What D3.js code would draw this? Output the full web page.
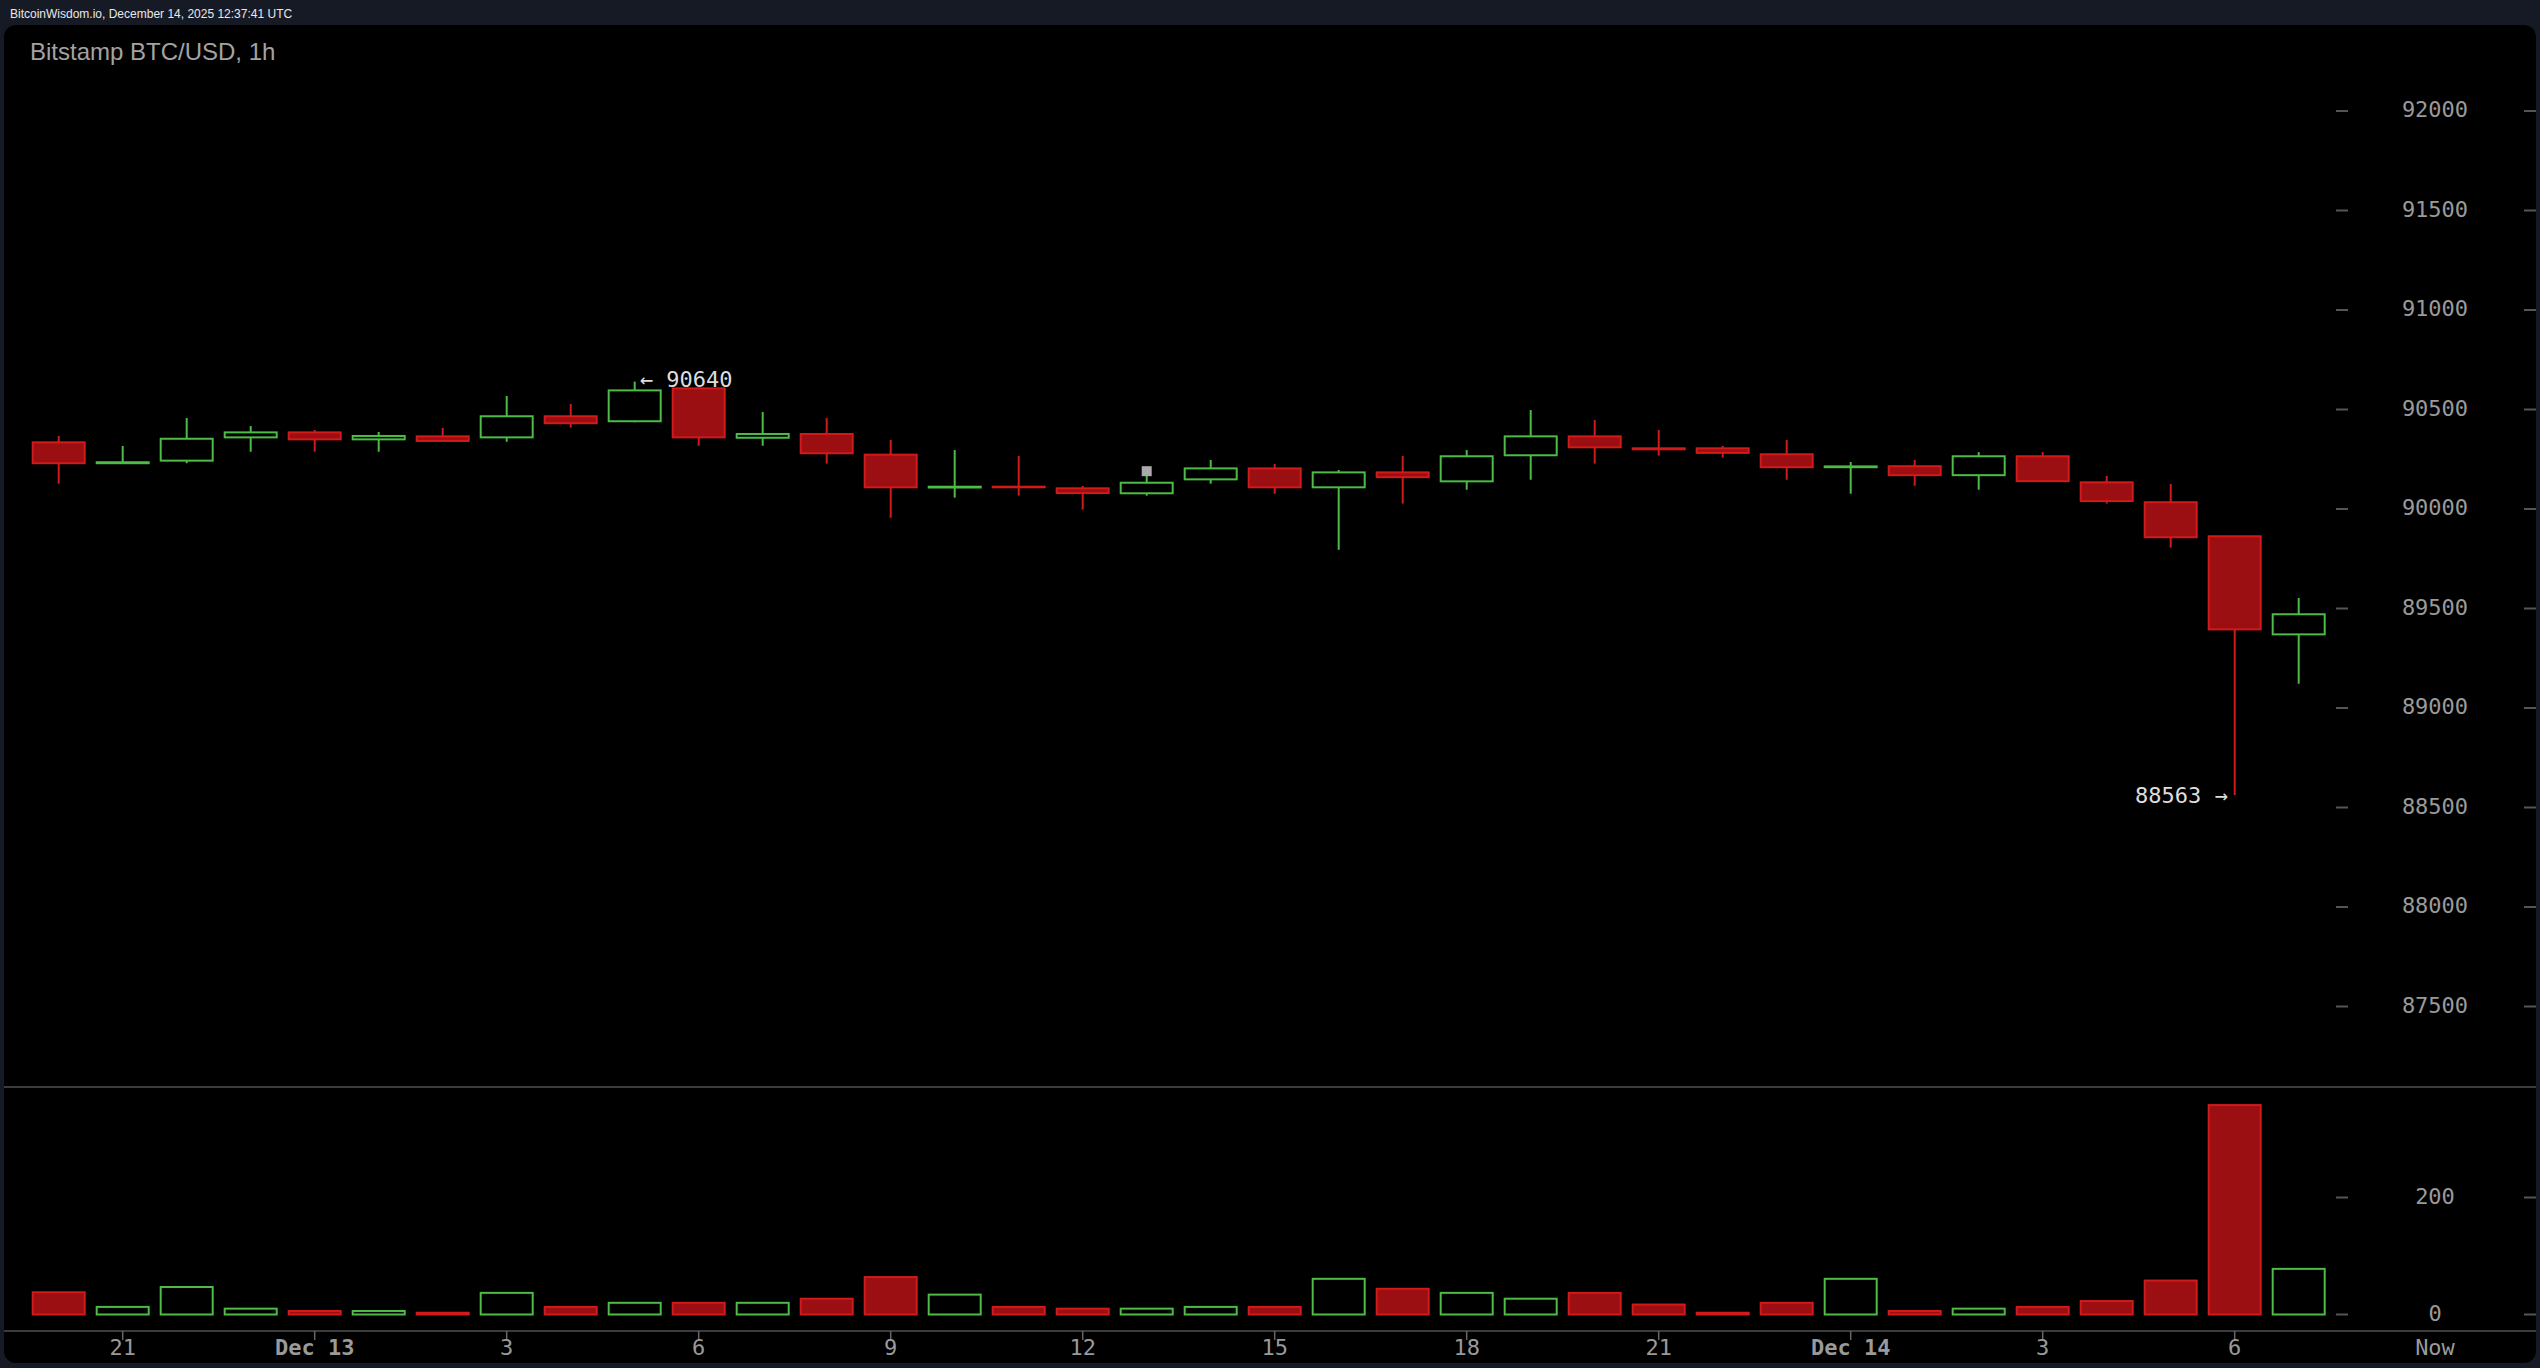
<!DOCTYPE html>
<html><head><meta charset="utf-8">
<script src="https://cdn.jsdelivr.net/npm/d3@7"></script>
<style>html,body{margin:0;padding:0;background:#161a25;overflow:hidden}</style>
</head><body>
<svg id="c" width="2540" height="1368"></svg>
<script>
// ---- data ----
const startHour = "2025-12-12T20:00:00Z"; // first candle, hourly thereafter
const opens  = [90335,90230,90243,90360,90385,90350,90365,90360,90466,90441,90606,90358,90377,90273,90108,90112,90104,90079,90149,90204,90109,90184,90139,90270,90365,90305,90305,90275,90210,90215,90170,90265,90134,90034,89863,89370];
const highs  = [90367,90317,90457,90417,90397,90387,90407,90568,90528,90640,90610,90487,90457,90347,90296,90266,90116,90196,90246,90226,90196,90266,90296,90497,90447,90397,90317,90347,90236,90246,90286,90286,90166,90126,89865,89553];
const lows   = [90127,90228,90230,90288,90288,90288,90340,90338,90409,90436,90318,90318,90228,89956,90057,90067,89997,90067,90127,90077,89795,90027,90097,90147,90228,90268,90258,90147,90077,90117,90097,90138,90027,89806,88563,89122];
const closes = [90230,90235,90353,90385,90350,90367,90342,90466,90431,90596,90360,90377,90280,90109,90112,90109,90080,90132,90204,90109,90184,90160,90265,90365,90310,90300,90282,90210,90214,90170,90265,90140,90040,89858,89395,89471];
const volumes= [38,13,47,10,6,6,3,37,13,20,20,20,27,64,34,13,10,10,13,13,61,44,37,27,37,17,3,20,61,6,10,13,23,58,358,78];
const priceTicks = [87500,88000,88500,89000,89500,90000,90500,91000,91500,92000];
const volumeTicks = [0,200];
const markerCandle = 17, markerPrice = 90190;
const highLabelCandle = 9, lowLabelCandle = 34;
const headerText = "BitcoinWisdom.io, December 14, 2025 12:37:41 UTC";
const titleText = "Bitstamp BTC/USD, 1h";

// ---- build ----
const t0 = new Date(startHour);
const candles = opens.map((o,i)=>({t:d3.utcHour.offset(t0,i),o,h:highs[i],l:lows[i],c:closes[i],v:volumes[i]}));
const svg = d3.select("#c");
const W=2540,H=1368;
const mono = "'DejaVu Sans Mono', monospace";
const GREEN="#4cbc46", RED="#d11a1a", REDFILL="#9b0f13", AXIS="#9a9a9a", LINE="#3c3c3c";

svg.append("rect").attr("width",W).attr("height",H).attr("fill","#161a25");
svg.append("text").attr("x",10).attr("y",18).attr("fill","#e8e8e8")
  .attr("font-family","'Liberation Sans', Arial, sans-serif").attr("font-size",12).text(headerText);
svg.append("rect").attr("x",4).attr("y",25).attr("width",2532).attr("height",1338).attr("rx",12).attr("fill","#000");
svg.append("text").attr("x",30).attr("y",60).attr("fill","#a3a3a3")
  .attr("font-family","'Liberation Sans', Arial, sans-serif").attr("font-size",24).text(titleText);

const x = d3.scaleUtc().domain([candles[0].t, candles[candles.length-1].t]).range([58.7, 58.7+64*(candles.length-1)]);
const y = d3.scaleLinear().domain([87500,92000]).range([1006.5,111]);
const yv = d3.scaleLinear().domain([0,200]).range([1314.5,1197.5]);
const bw = 52;

// separator & axis lines
svg.append("line").attr("x1",4).attr("x2",2536).attr("y1",1087).attr("y2",1087).attr("stroke",LINE).attr("stroke-width",2);
svg.append("line").attr("x1",4).attr("x2",2536).attr("y1",1331).attr("y2",1331).attr("stroke",LINE).attr("stroke-width",2);

// price axis
const axisCx = 2435;
function yTicks(scale, vals){
  const g = svg.append("g");
  vals.forEach(v=>{
    const yy = scale(v);
    g.append("line").attr("x1",2336).attr("x2",2348).attr("y1",yy).attr("y2",yy).attr("stroke","#555").attr("stroke-width",2);
    g.append("line").attr("x1",2524).attr("x2",2536).attr("y1",yy).attr("y2",yy).attr("stroke","#555").attr("stroke-width",2);
    g.append("text").attr("x",axisCx).attr("y",yy-1.5).attr("dy","0.36em").attr("text-anchor","middle")
      .attr("font-family",mono).attr("font-size",22).attr("fill",AXIS).text(v);
  });
}
yTicks(y, priceTicks);
yTicks(yv, volumeTicks);

// x axis
const xt = x.ticks(d3.utcHour.every(3));
const xg = svg.append("g");
xt.forEach(t=>{
  const xx = x(t);
  xg.append("line").attr("x1",xx).attr("x2",xx).attr("y1",1331).attr("y2",1340).attr("stroke","#666").attr("stroke-width",1.5);
  const isDay = t.getUTCHours()===0;
  xg.append("text").attr("x",xx).attr("y",1354.5).attr("text-anchor","middle")
    .attr("font-family",mono).attr("font-size",22).attr("font-weight",isDay?"bold":"normal").attr("fill",AXIS)
    .text(isDay ? d3.utcFormat("%b %-d")(t) : t.getUTCHours());
});
xg.append("text").attr("x",axisCx).attr("y",1354.5).attr("text-anchor","middle")
  .attr("font-family",mono).attr("font-size",22).attr("fill",AXIS).text("Now");

// candles
const cg = svg.append("g");
candles.forEach(d=>{
  const up = d.c>=d.o;
  const col = up?GREEN:RED;
  const cx = x(d.t);
  cg.append("line").attr("x1",cx).attr("x2",cx).attr("y1",y(d.h)).attr("y2",y(d.l)).attr("stroke",col).attr("stroke-width",2);
  const top = y(Math.max(d.o,d.c)), bot = y(Math.min(d.o,d.c));
  cg.append("rect").attr("x",cx-bw/2).attr("y",top).attr("width",bw).attr("height",Math.max(bot-top,0.5))
    .attr("fill",up?"#000":REDFILL).attr("stroke",col).attr("stroke-width",2);
  // volume
  const vt = yv(d.v), vb = yv(0);
  svg.append("rect").attr("x",cx-bw/2).attr("y",vt).attr("width",bw).attr("height",Math.max(vb-vt,0.5))
    .attr("fill",up?"#000":REDFILL).attr("stroke",col).attr("stroke-width",2);
});

// marker
const mc = candles[markerCandle];
svg.append("rect").attr("x",x(mc.t)-5).attr("y",y(markerPrice)-5).attr("width",10).attr("height",10).attr("fill","#aaaaaa");

// annotations
const hc = candles[highLabelCandle], lc = candles[lowLabelCandle];
svg.append("text").attr("x",x(hc.t)+5).attr("y",y(hc.h)-3).attr("dy","0.36em")
  .attr("font-family",mono).attr("font-size",22).attr("fill","#dddddd").text("\u2190 "+hc.h);
svg.append("text").attr("x",x(lc.t)-7).attr("y",y(lc.l)).attr("dy","0.36em").attr("text-anchor","end")
  .attr("font-family",mono).attr("font-size",22).attr("fill","#dddddd").text(lc.l+" \u2192");
</script>
</body></html>
